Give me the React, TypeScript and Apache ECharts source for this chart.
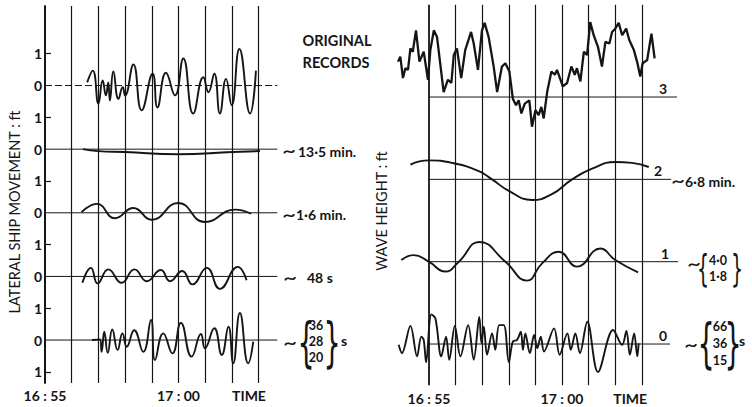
import React, { useEffect, useRef } from "react";
import * as echarts from "echarts";

// ---------- data (time in minutes after 16:55, value relative to each trace's baseline) ----------
// Left panel: lateral ship movement, ft
const leftOriginal: number[][] = [
  [1.58, 0.1], [1.79, 0.47], [2.0, -0.57], [2.16, 0.16], [2.28, -0.31], [2.37, 0.1], [2.43, -0.47],
  [2.56, 0.44], [2.75, -0.42], [2.91, -0.05], [3.0, -0.31], [3.31, 0.66], [3.62, -0.78], [4.03, 0.37],
  [4.21, -0.69], [4.53, 0.4], [4.87, -0.31], [5.18, 0.85], [5.55, -0.88], [5.93, 0.26], [6.12, -0.21],
  [6.34, 0.37], [6.55, -0.88], [6.78, 0.21], [6.99, -0.62], [7.28, 1.15], [7.68, -0.88], [7.9, 0.47],
];
const left135: number[][] = [
  [1.42, 0], [1.99, -0.06], [3.0, -0.09], [4.98, -0.16], [7.04, -0.09], [8.05, -0.06],
];
const left16: number[][] = [
  [1.37, 0.02], [1.94, 0.28], [2.62, -0.17], [3.31, 0.15], [3.99, -0.22], [4.99, 0.31], [5.99, -0.29],
  [7.12, 0.1], [7.72, -0.03],
];
const left48: number[][] = [
  [1.4, -0.2], [1.72, 0.27], [1.97, -0.22], [2.37, 0.22], [2.87, -0.2], [3.35, 0.22], [3.81, -0.15],
  [4.34, 0.2], [4.68, -0.15], [5.14, 0.17], [5.52, -0.25], [6.06, 0.27], [6.55, -0.39], [7.22, 0.3],
  [7.55, -0.12],
];
const leftShort: number[][] = [
  [1.76, 0], [2.06, 0.02], [2.12, -0.37], [2.22, 0.26], [2.35, -0.4], [2.52, 0.33], [2.72, -0.31],
  [2.9, 0.21], [3.06, -0.21], [3.34, 0.31], [3.68, -0.37], [3.97, 0.63], [4.12, -0.63], [4.43, 0.21],
  [4.77, -0.42], [5.09, 0.54], [5.49, -0.52], [5.84, 0.19], [5.99, -0.26], [6.34, 0.37], [6.62, -0.47],
  [6.87, 0.42], [7.05, -0.73], [7.3, 0.85], [7.61, -0.73], [7.8, -0.05],
];
const leftOffsets = [0, -2, -4, -6, -8];
const leftBaselineEnd = 8.7;

// Right panel: wave height (baseline spacing = 1 unit)
const rightOriginal: number[][] = [
  [-1.165, 0.43], [-1.08, 0.49], [-0.98, 0.23], [-0.89, 0.35], [-0.79, 0.33], [-0.7, 0.59], [-0.61, 0.55],
  [-0.49, 0.81], [-0.36, 0.43], [-0.2, 0.55], [-0.04, 0.21], [0.05, 0.57], [0.18, 0.81], [0.3, 0.73],
  [0.55, 0.06], [0.71, 0.21], [0.84, 0.17], [0.93, 0.51], [1.05, 0.59], [1.12, 0.43], [1.21, 0.23],
  [1.36, 0.57], [1.58, 0.79], [1.68, 0.65], [1.84, 0.33], [1.99, 0.81], [2.09, 0.9], [2.24, 0.73],
  [2.43, 0.37], [2.56, 0.06], [2.74, 0.37], [2.87, 0.41], [3.02, 0.31], [3.15, -0.02], [3.27, -0.1],
  [3.37, -0.04], [3.47, -0.2], [3.6, -0.08], [3.77, -0.04], [3.87, -0.36], [4.0, -0.16], [4.12, -0.22],
  [4.22, -0.12], [4.31, -0.26], [4.44, 0.06], [4.6, 0.31], [4.73, 0.27], [4.81, 0.33], [5.03, 0.13],
  [5.19, 0.17], [5.35, 0.37], [5.48, 0.27], [5.56, 0.35], [5.69, 0.19], [5.82, 0.55], [5.94, 0.51],
  [6.06, 0.91], [6.19, 0.75], [6.35, 0.61], [6.5, 0.37], [6.63, 0.67], [6.78, 0.65], [6.88, 0.79],
  [7.0, 0.83], [7.13, 0.9], [7.26, 0.75], [7.41, 0.83], [7.53, 0.69], [7.7, 0.57], [7.82, 0.43],
  [7.94, 0.25], [8.03, 0.41], [8.2, 0.45], [8.36, 0.77], [8.48, 0.47],
];
const right68: number[][] = [
  [-0.7, 0.18], [-0.01, 0.23], [0.86, 0.2], [1.87, 0.1], [2.37, 0], [3.0, -0.14], [3.87, -0.25],
  [4.62, -0.18], [5.38, 0], [6.13, 0.13], [7.0, 0.21], [7.63, 0.2], [8.26, 0.15],
];
const right40: number[][] = [
  [-1.04, 0.02], [-0.58, 0.08], [-0.01, 0], [0.61, -0.12], [1.12, 0], [1.89, 0.24], [2.87, 0],
  [3.68, -0.23], [4.25, -0.02], [4.88, 0.12], [5.56, -0.06], [6.44, 0.16], [7.0, 0.02], [7.86, -0.13],
];
const rightShort: number[][] = [
  [-1.14, -0.01], [-1.02, -0.11], [-0.7, 0.22], [-0.45, -0.15], [-0.29, 0.09], [-0.2, 0.05], [-0.11, -0.22],
  [0.09, 0.36], [0.24, 0.31], [0.46, -0.15], [0.64, 0.09], [0.76, -0.19], [0.97, 0.22], [1.18, -0.15],
  [1.47, 0.23], [1.68, -0.19], [1.89, 0.33], [1.97, 0.01], [2.06, 0.21], [2.18, -0.13], [2.37, 0.13],
  [2.49, -0.07], [2.64, 0.23], [2.81, 0.23], [3.0, -0.22], [3.15, 0.03], [3.31, 0.05], [3.45, 0.15],
  [3.53, -0.07], [3.62, 0.13], [3.79, -0.11], [3.95, 0.11], [4.07, -0.05], [4.2, 0.09], [4.32, -0.09],
  [4.7, 0.19], [4.91, -0.13], [5.2, 0.13], [5.33, -0.07], [5.5, 0.13], [5.67, -0.11], [5.95, 0.27],
  [6.35, -0.34], [6.92, 0.17], [7.26, -0.01], [7.42, 0.16], [7.55, -0.13], [7.71, 0.13], [7.83, -0.15],
  [7.88, 0.01],
];
const rightLevels = [3, 2, 1, 0];
const rightLevelLabels = ["3", "2", "1", "0"];
const rightBaselineEnds = [9.32, 9.1, 9.36, 9.06];
const rightLabelT = [8.8, 8.61, 8.87, 8.8];

// Axis ticks / labels
const verticalTimes = [0, 1, 2, 3, 4, 5, 6, 7, 8];
const leftTimeTicks = [0, 5, 7.64];
const rightTimeTicks = [0, 5, 7.56];
const timeLabels = ["16 : 55", "17 : 00", "TIME"];
const leftUnitLabelValues = [1, 0, -1, -2, -3, -4, -5, -6, -7, -8, -9];
const leftUnitTickValues = [1, -1, -3, -5, -7, -9];

const INK = "#151515";
const FONT = "Lato, 'Open Sans', sans-serif";

const shift = (pts: number[][], off: number) => pts.map(([t, v]) => [t, +(v + off).toFixed(3)]);

function txt(text: string, x: number, y: number, o: any = {}) {
  return {
    type: "text",
    x,
    y,
    rotation: o.rotation || 0,
    scaleX: o.scaleX || 1,
    scaleY: o.scaleY || 1,
    style: {
      text,
      fill: INK,
      fontFamily: o.fontFamily || FONT,
      fontSize: o.fontSize || 14,
      fontWeight: o.fontWeight || "bold",
      align: o.align || "center",
      verticalAlign: "middle",
    },
  };
}

const tilde = (x: number, y: number) => txt("~", x, y, { fontSize: 22, fontWeight: "normal", scaleX: 1.1 });
const brace = (ch: string, x: number, y: number, size: number) =>
  txt(ch, x, y, { fontSize: size, fontWeight: "normal", scaleX: 0.5, fontFamily: "'DejaVu Sans'" });
const small = (s: string, x: number, y: number) => txt(s, x, y, { fontSize: 12.5 });

export default function App() {
  const ref = useRef<HTMLDivElement>(null);
  useEffect(() => {
    if (!ref.current) return;
    const chart = echarts.init(ref.current, undefined, { renderer: "svg" });
    const nearestLabel = (ticks: number[]) => (v: number) => {
      let best = 0;
      ticks.forEach((t, i) => {
        if (Math.abs(t - v) < Math.abs(ticks[best] - v)) best = i;
      });
      return timeLabels[best];
    };
    const vLines = () => ({
      symbol: "none",
      silent: true,
      label: { show: false },
      lineStyle: { color: INK, width: 1.2, type: "solid" },
      data: verticalTimes.map((t) => ({
        xAxis: t,
        lineStyle: { color: INK, width: t === 0 ? 1.8 : 1.2, type: "solid" },
      })),
    });
    const series: any[] = [];
    // Left baselines
    leftOffsets.forEach((off, i) => {
      series.push({
        type: "line",
        xAxisIndex: 0,
        yAxisIndex: 0,
        data: [[0, off], [leftBaselineEnd, off]],
        symbol: "none",
        lineStyle: { color: INK, width: 1, type: i === 0 ? [7, 3] : "solid" },
        markLine: i === 0 ? vLines() : undefined,
        z: 2,
      });
    });
    const leftTraces = [leftOriginal, left135, left16, left48, leftShort];
    leftTraces.forEach((tr, i) => {
      series.push({
        type: "line",
        xAxisIndex: 0,
        yAxisIndex: 0,
        data: shift(tr, leftOffsets[i]),
        symbol: "none",
        smooth: 0.5,
        lineStyle: { color: INK, width: 1.9 },
        z: 5,
      });
    });
    // Right baselines
    rightLevels.forEach((lv, i) => {
      series.push({
        type: "line",
        xAxisIndex: 1,
        yAxisIndex: 1,
        data: [[0, lv], [rightBaselineEnds[i], lv]],
        symbol: "none",
        lineStyle: { color: INK, width: 1 },
        markLine: i === 0 ? vLines() : undefined,
        markPoint: {
          symbol: "circle",
          symbolSize: 1,
          itemStyle: { color: "rgba(0,0,0,0)" },
          silent: true,
          label: {
            show: true,
            position: "top",
            distance: 1,
            formatter: rightLevelLabels[i],
            color: INK,
            fontFamily: FONT,
            fontWeight: "bold",
            fontSize: 14,
          },
          data: [{ coord: [rightLabelT[i], lv] }],
        },
        z: 2,
      });
    });
    const rightTraces = [rightOriginal, right68, right40, rightShort];
    rightTraces.forEach((tr, i) => {
      series.push({
        type: "line",
        xAxisIndex: 1,
        yAxisIndex: 1,
        data: shift(tr, rightLevels[i]),
        symbol: "none",
        smooth: i === 0 ? false : i === 3 ? 0.35 : 0.5,
        lineStyle: { color: INK, width: i === 0 ? 2.3 : 1.9 },
        z: 5,
      });
    });

    const timeLabelStyle = {
      color: INK,
      fontFamily: FONT,
      fontWeight: "bold",
      fontSize: 14,
    };

    chart.setOption({
      animation: false,
      backgroundColor: "#ffffff",
      grid: [
        { left: 45, top: 6, width: 232.3, height: 377 },
        { left: 397.1, top: 4.8, width: 282, height: 380.4 },
      ],
      xAxis: [
        {
          gridIndex: 0,
          type: "value",
          min: 0,
          max: 8.7,
          axisLine: { show: false },
          axisTick: { show: false },
          splitLine: { show: false },
          axisLabel: {
            ...timeLabelStyle,
            margin: 5,
            customValues: leftTimeTicks,
            formatter: nearestLabel(leftTimeTicks),
          },
        },
        {
          gridIndex: 1,
          type: "value",
          min: -1.2,
          max: 9.4,
          axisLine: { show: false },
          axisTick: { show: false },
          splitLine: { show: false },
          axisLabel: {
            ...timeLabelStyle,
            margin: 6,
            customValues: rightTimeTicks,
            formatter: nearestLabel(rightTimeTicks),
          },
        },
      ],
      yAxis: [
        {
          gridIndex: 0,
          type: "value",
          min: -9.35,
          max: 2.5,
          axisLine: { show: true, lineStyle: { color: INK, width: 1.8 } },
          axisTick: {
            show: true,
            inside: true,
            length: 6,
            customValues: leftUnitTickValues,
            lineStyle: { color: INK, width: 1.2 },
          },
          splitLine: { show: false },
          axisLabel: {
            color: INK,
            fontFamily: FONT,
            fontWeight: "bold",
            fontSize: 14,
            margin: 3,
            padding: [3, 0, 0, 0],
            customValues: leftUnitLabelValues,
            formatter: (v: number) => (Math.abs(Math.round(v)) % 2 === 1 ? "1" : "0"),
          },
        },
        {
          gridIndex: 1,
          type: "value",
          min: -0.5,
          max: 4.12,
          show: false,
        },
      ],
      graphic: [
        txt("LATERAL SHIP MOVEMENT : ft", 14, 212, { rotation: Math.PI / 2, fontSize: 14.5, fontWeight: "normal" }),
        txt("WAVE HEIGHT : ft", 381, 211, { rotation: Math.PI / 2, fontSize: 14.5, fontWeight: "normal" }),
        txt("ORIGINAL", 337, 40, { fontSize: 14.5 }),
        txt("RECORDS", 336, 62, { fontSize: 14.5 }),
        // left period annotations
        tilde(289, 149),
        txt("13·5 min.", 298, 151, { align: "left" }),
        tilde(289, 213),
        txt("1·6 min.", 296, 214, { align: "left" }),
        tilde(290, 276),
        txt("48 s", 307, 277, { align: "left" }),
        tilde(290, 341),
        brace("{", 306, 342, 54),
        small("36", 316, 325),
        small("28", 316, 341),
        small("20", 316, 357),
        brace("}", 332, 342, 54),
        txt("s", 344, 340),
        // right period annotations
        tilde(678, 179),
        txt("6·8 min.", 685, 181, { align: "left" }),
        tilde(694, 262),
        brace("{", 703, 268, 38),
        small("4·0", 718, 260),
        small("1·8", 718, 276),
        brace("}", 737, 268, 38),
        tilde(691, 343),
        brace("{", 706, 343, 54),
        small("66", 720, 326),
        small("36", 720, 343),
        small("15", 720, 360),
        brace("}", 733, 343, 54),
        txt("s", 742, 340),
      ],
      series,
    });
    return () => chart.dispose();
  }, []);
  return (
    <div
      ref={ref}
      style={{ position: "fixed", left: 0, top: 0, width: 752, height: 407, background: "#fff" }}
    />
  );
}
